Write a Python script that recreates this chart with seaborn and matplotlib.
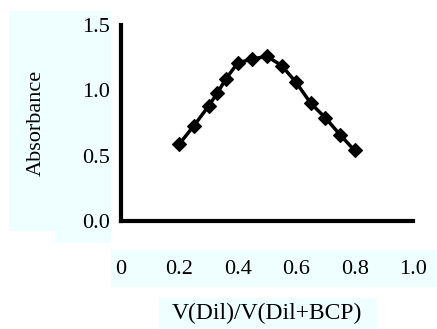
import matplotlib
matplotlib.use("Agg")
import matplotlib.pyplot as plt
from matplotlib.patches import Rectangle
import seaborn as sns
import pandas as pd

# mole ratio data
ratio = [0.20, 0.25, 0.30, 0.33, 0.36, 0.40, 0.45, 0.50, 0.55, 0.60, 0.65, 0.70, 0.75, 0.80]
absorbance = [0.59, 0.73, 0.88, 0.98, 1.09, 1.21, 1.24, 1.26, 1.19, 1.06, 0.90, 0.79, 0.66, 0.54]
x_ticks = [0, 0.2, 0.4, 0.6, 0.8, 1.0]
x_tick_labels = ["0", "0.2", "0.4", "0.6", "0.8", "1.0"]
y_ticks = [0.0, 0.5, 1.0, 1.5]
y_tick_labels = ["0.0", "0.5", "1.0", "1.5"]

sns.set_style("white")
plt.rcParams["font.family"] = ["Liberation Serif", "DejaVu Serif"]
plt.rcParams["text.color"] = "black"
plt.rcParams["axes.labelcolor"] = "black"
plt.rcParams["xtick.color"] = "black"
plt.rcParams["ytick.color"] = "black"

W, H = 437, 329
fig = plt.figure(figsize=(W / 100, H / 100), dpi=100)
ax = fig.add_axes([121 / W, 1 - 221 / H, 292 / W, 196 / H])

# light cyan label backgrounds
bg = "#effefe"
for (x0, y0, w, h) in [(9, 11, 102, 220), (55, 231, 56, 12), (111, 250, 326, 37), (159, 298, 218, 31)]:
    fig.patches.append(Rectangle((x0 / W, 1 - (y0 + h) / H), w / W, h / H,
                                 transform=fig.transFigure, facecolor=bg,
                                 edgecolor="none", zorder=-1))

df = pd.DataFrame({"ratio": ratio, "absorbance": absorbance})
sns.lineplot(data=df, x="ratio", y="absorbance", ax=ax, color="black",
             linewidth=2.5, marker="D", markersize=7, markeredgewidth=0.8,
             markeredgecolor="black", markerfacecolor="black")

ax.set_xlim(0, 1.0)
ax.set_ylim(0, 1.5)
ax.set_xticks(x_ticks, x_tick_labels)
ax.set_yticks(y_ticks, y_tick_labels)
ax.tick_params(axis="x", length=0, pad=28, labelsize=16)
ax.tick_params(axis="y", length=0, pad=8, labelsize=16)
ax.set_xlabel("V(Dil)/V(Dil+BCP)", fontsize=17, labelpad=17)
ax.set_ylabel("Absorbance", fontsize=16, labelpad=26)

for side in ["top", "right"]:
    ax.spines[side].set_visible(False)
for side in ["left", "bottom"]:
    ax.spines[side].set_linewidth(3)
    ax.spines[side].set_color("black")
ax.set_facecolor("white")

fig.savefig("out.png", dpi=100)
